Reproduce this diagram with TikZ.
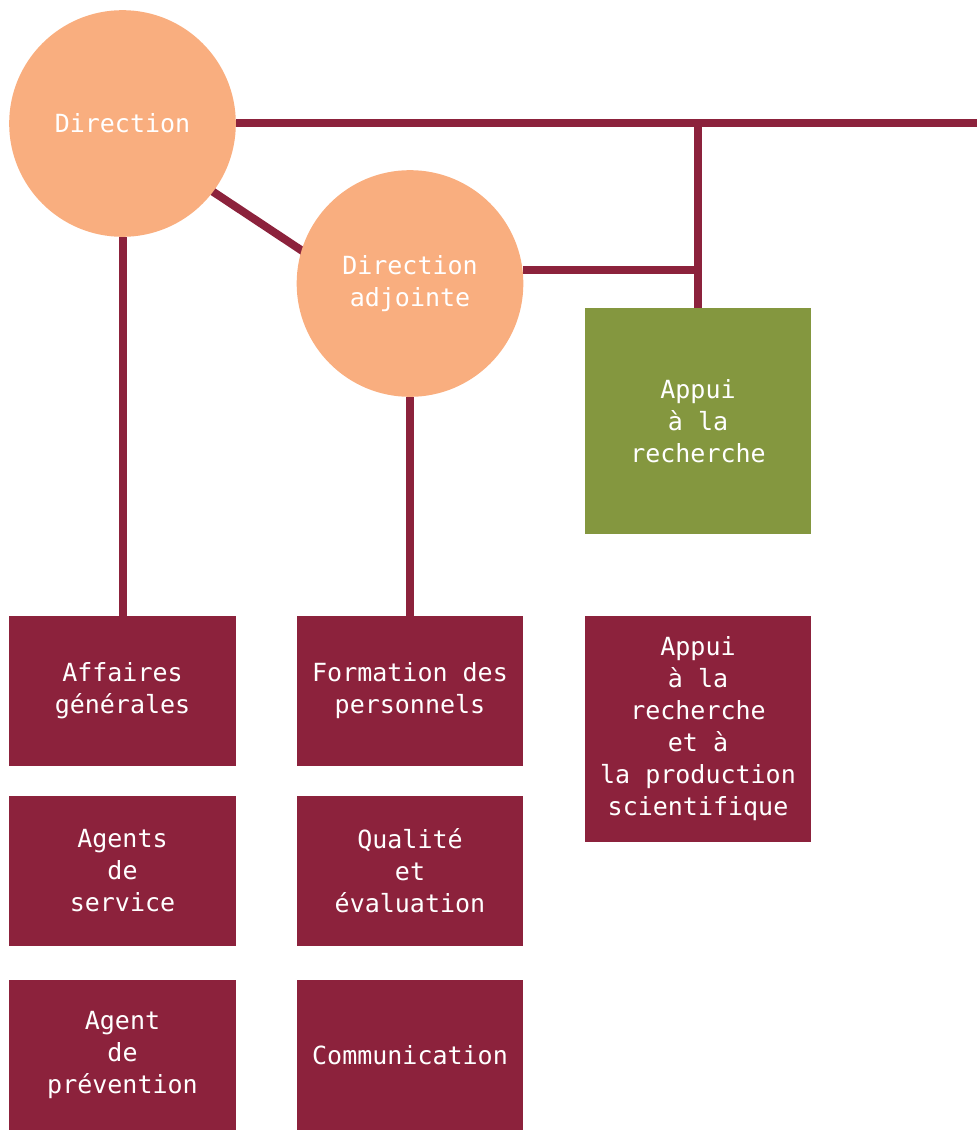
\documentclass[tikz,border=0pt]{standalone}
\usepackage{fontspec}
\setmonofont{DejaVu Sans Mono}
\usepackage{tikz}
\usetikzlibrary{backgrounds}
\definecolor{peach}{HTML}{F9AE7F}
\definecolor{wine}{HTML}{8C223C}
\definecolor{olive}{HTML}{84973F}
\tikzstyle{lead}=[circle,fill=peach,minimum size=170pt,inner sep=0pt,text=white,font=\ttfamily\fontsize{18.75}{24}\selectfont,align=center]
\tikzstyle{unit}=[rectangle,fill=wine,minimum width=170pt,minimum height=112.5pt,inner sep=0pt,text=white,font=\ttfamily\fontsize{18.75}{24}\selectfont,align=center]
\tikzstyle{bigunit}=[unit,minimum height=169.5pt]
\tikzstyle{link} = [draw,wine,line width=6pt]

\begin{document}
\begin{tikzpicture}[x=0.75pt,y=-0.75pt]
    \useasboundingbox (0,0) rectangle (977,1130);

    \node[lead] (dir) at (122.5,123.5) {Direction};
    \node[lead] (adj) at (410,283.5) {Direction\\adjointe};

    \node[bigunit,fill=olive] (ar) at (698,421) {Appui\\à la\\recherche};
    \node[bigunit] (arps) at (698,729) {Appui\\à la\\recherche\\et à\\la production\\scientifique};

    \foreach \pos/ \name/ \txt in {{(122.5,691)/ag/{Affaires\\générales}}, {(122.5,871)/as/{Agents\\de\\service}}, {(122.5,1055)/ap/{Agent\\de\\prévention}},
        {(410,691)/fp/{Formation des\\personnels}}, {(410,871)/qe/{Qualité\\et\\évaluation}}, {(410,1055)/com/{Communication}}}
        \node[unit] (\name) at \pos {\txt};

    \coordinate (rim) at (977,123.5);

    % links behind the units
    \begin{scope}[on background layer]
        \path[link] (dir.east) -- (rim);
        \path[link] (ar.north) -- (ar.north |- dir.east);
        \path[link] (adj.7) -- (adj.7 -| ar.north);
        \path[link,shorten <=-4pt,shorten >=-4pt] (dir.-37) -- (adj.163);
        \path[link] (dir.south) -- (ag.north);
        \path[link] (adj.south) -- (fp.north);
    \end{scope}

\end{tikzpicture}
\end{document}
